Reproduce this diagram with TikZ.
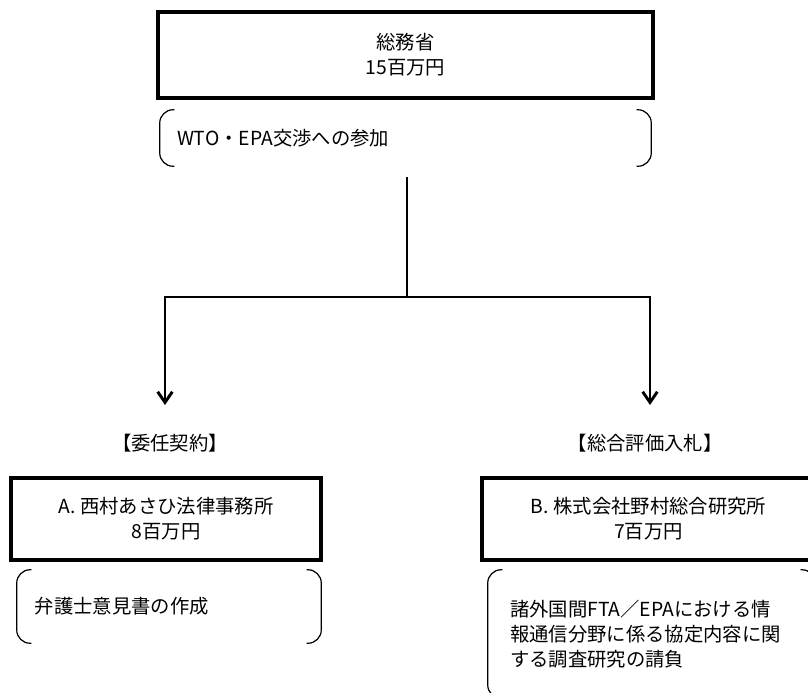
\documentclass[tikz,border=0pt]{standalone}
\usepackage{fontspec}
\setmainfont{Noto Sans CJK JP}
\usepackage{tikz}
\usetikzlibrary{arrows.meta}
\tikzstyle{budget} = [rectangle,
					  minimum height=61.5pt,
					  text centered,
					  align=center,
					  line width=2.3pt,
					  draw=black,
					 ]
\tikzstyle{task} = [rectangle,
					align=left,
					inner ysep=0pt,
					draw=none,
				   ]
\tikzstyle{bracket} = [line width=0.9pt, rounded corners=10pt]
\tikzstyle{method} = [rectangle, inner sep=0pt]
\tikzstyle{link} = [line width=2.2pt]
\tikzstyle{arrow} = [line width=2.2pt,-{Straight Barb[length=8pt,width=11pt]}]

\begin{document}
\begin{tikzpicture}[x=0.75pt, y=-0.75pt, font=\fontsize{14.5pt}{18.75pt}\selectfont]

\path[use as bounding box, clip] (0,0) rectangle (808,693);

\node (soumu) [budget, minimum width=371.25pt, minimum height=64.5pt] at (405.5,55) {総務省\\15百万円};
\node (task0) [task, minimum height=42pt, inner xsep=12.75pt, text width=342.75pt] at (405.5,138) {WTO・EPA交渉への参加};

\node (methodA) [method] at (170,443) {【委任契約】};
\node (methodB) [method] at (645,443) {【総合評価入札】};

\node (firmA) [budget, minimum width=232.5pt] at (166,519) {A. 西村あさひ法律事務所\\8百万円};
\node (taskA) [task, minimum height=54.75pt, inner xsep=13.5pt, text width=201pt] at (169,606.5) {弁護士意見書の作成};

\node (firmB) [budget, minimum width=249.75pt] at (648.5,519) {B. 株式会社野村総合研究所\\7百万円};
\node (taskB) [task, minimum height=96pt, inner xsep=16.5pt, text width=212.25pt] at (651.5,634) {諸外国間FTA／EPAにおける情\\報通信分野に係る協定内容に関\\する調査研究の請負};

% brackets round the tasks
\foreach \t in {task0, taskA, taskB} {
	\draw [bracket] ([xshift=11pt]\t.north west) -- (\t.north west) -- (\t.south west) -- ([xshift=11pt]\t.south west);
	\draw [bracket] ([xshift=-11pt]\t.north east) -- (\t.north east) -- (\t.south east) -- ([xshift=-11pt]\t.south east);
}

\coordinate (stem) at (407,178);
\coordinate (split) at (407,297);
\coordinate (tipA) at (165,405);
\coordinate (tipB) at (650,405);

\draw [link, line cap=rect] (stem) -- (split);
\draw [arrow] (split) -| (tipA);
\draw [arrow] (split) -| (tipB);

\end{tikzpicture}
\end{document}
